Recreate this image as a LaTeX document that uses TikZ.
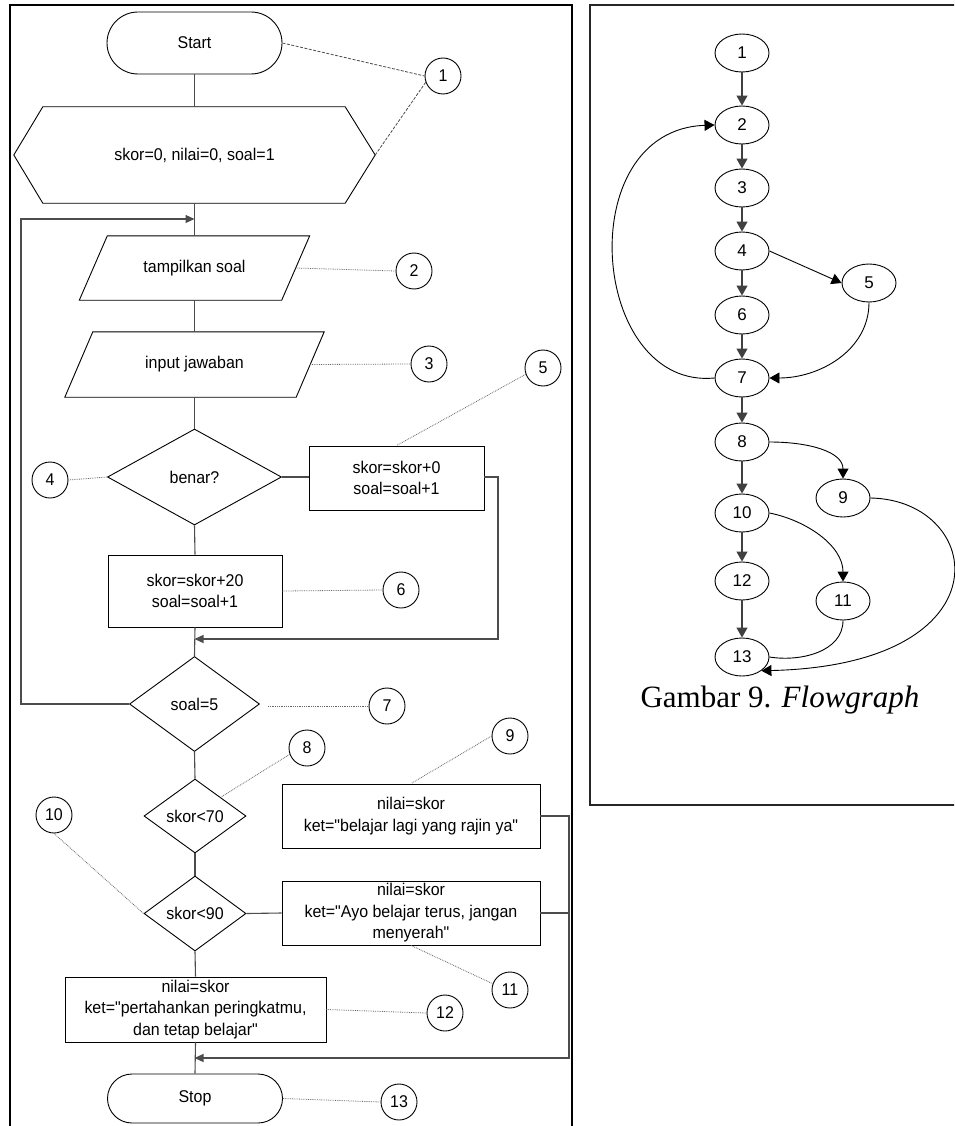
\documentclass[tikz,border=0pt]{standalone}
\usepackage{fontspec}
\setmainfont{Liberation Sans}[Ligatures=TeXOff,FakeStretch=0.94]
\newfontfamily\fgfont{Liberation Sans}
\newfontfamily\capfont{Liberation Serif}
\usetikzlibrary{arrows.meta,shapes.misc,shapes.geometric,calc}
\begin{document}
\begin{tikzpicture}[x=1pt,y=-1pt,
  font=\fontsize{17}{21.5}\selectfont,
  shp/.style={draw=black,line width=0.9pt},
  plain/.style={draw=none,inner sep=0pt,align=center},
  term/.style={draw=black,line width=0.9pt,rounded rectangle,minimum width=175pt,inner sep=0pt},
  boxnode/.style={draw=black,line width=0.9pt,rectangle,inner sep=0pt,align=center},
  dec/.style={draw=black,line width=0.9pt,diamond,inner sep=0pt},
  conn/.style={draw=black!70,line width=1.1pt},
  tip/.style={-{Triangle[length=9pt,width=8pt]}},
  lbl/.style={draw=black,line width=0.9pt,circle,minimum size=36pt,inner sep=0pt},
  dotl/.style={draw=black!60,line width=0.8pt,densely dotted},
  dashl/.style={draw=black!70,line width=0.8pt,dash pattern=on 3pt off 1.5pt},
  fg/.style={draw=black,line width=0.9pt,ellipse,minimum width=54pt,minimum height=38pt,inner sep=0pt,font=\fgfont\fontsize{17}{18}\selectfont},
  fgs/.style={draw=black!75,line width=1.1pt,-{Triangle[length=10pt,width=11pt]}},
  fgc/.style={draw=black,line width=0.9pt,-{Triangle[length=10pt,width=11pt]}},
  fgn/.style={draw=black,line width=0.9pt}
]
\useasboundingbox (0,0) rectangle (954,1126);
\fill[white] (0,0) rectangle (954,1126);
\begin{scope}
\clip (0,0) rectangle (954,1126);
\draw[black,line width=2pt] (10,1140) -- (10,5) -- (572,5) -- (572,1140);
\draw[black!85,line width=1.8pt] (970,805) -- (590,805) -- (590,5) -- (970,5);
\end{scope}

% ---------- flowchart ----------
\node[term,minimum height=62pt] (start) at (194.5,43) {Start};
\node[plain,minimum width=361pt,minimum height=96pt] (init) at (194.5,155) {skor=0, nilai=0, soal=1};
\draw[shp] (init.west) -- ($(init.north west)+(29,0)$) -- ($(init.north east)+(-30,0)$) -- (init.east)
  -- ($(init.south east)+(-30,0)$) -- ($(init.south west)+(29,0)$) -- cycle;

\node[plain,minimum width=202pt,minimum height=64pt] (tamp) at (194.5,268) {tampilkan soal};
\draw[shp] ($(tamp.north west)+(14,0)$) -- ($(tamp.north east)+(14,0)$) -- ($(tamp.south east)+(-14,0)$) -- ($(tamp.south west)+(-14,0)$) -- cycle;

\node[plain,minimum width=231pt,minimum height=65pt] (inp) at (194.5,364.5) {input jawaban};
\draw[shp] ($(inp.north west)+(14,0)$) -- ($(inp.north east)+(14,0)$) -- ($(inp.south east)+(-14,0)$) -- ($(inp.south west)+(-14,0)$) -- cycle;

\node[dec,minimum width=174pt,minimum height=96pt] (benar) at (194.5,477) {benar?};
\node[boxnode,minimum width=175pt,minimum height=64pt] (b5) at (396.5,478) {skor=skor+0\\soal=soal+1};
\node[boxnode,minimum width=174pt,minimum height=72pt] (b6) at (195,591) {skor=skor+20\\soal=soal+1};
\node[dec,minimum width=130pt,minimum height=95pt] (s5) at (194.5,704) {soal=5};
\node[dec,minimum width=102pt,minimum height=74pt] (s70) at (195,816) {skor<70};
\node[dec,minimum width=102pt,minimum height=75pt] (s90) at (195,913.5) {skor<90};
\node[boxnode,minimum width=258pt,minimum height=64pt] (b9) at (411,816) {nilai=skor\\ket="belajar lagi yang rajin ya"};
\node[boxnode,minimum width=258pt,minimum height=64pt] (b11) at (411,913) {nilai=skor\\ket="Ayo belajar terus, jangan\\menyerah"};
\node[boxnode,minimum width=261pt,minimum height=65pt] (b12) at (195.5,1009.5) {nilai=skor\\ket="pertahankan peringkatmu,\\dan tetap belajar"};
\node[term,minimum height=49pt] (stop) at (195,1098.5) {Stop};

\coordinate (j1) at (194.5,219);
\coordinate (lp) at (21,219);
\coordinate (j2) at (194.5,639);
\coordinate (r1) at (498,639);
\coordinate (j3) at (194.5,1058);
\coordinate (r2) at (569,1058);

\draw[conn] (start.south) -- (init.north);
\draw[conn] (init.south) -- (tamp.north);
\draw[conn,tip] (s5.west) -| (lp) -- (j1);
\draw[conn] (tamp.south) -- (inp.north);
\draw[conn] (inp.south) -- (benar.north);
\draw[conn] (benar.east) -- (b5.west |- benar.east);
\draw[conn] (benar.south) -- (b6.north);
\draw[conn,tip] (b5.east |- benar.east) -| (r1) -- (j2);
\draw[conn] (b6.south) -- (s5.north);
\draw[conn] (s5.south) -- (s70.north);
\draw[conn] (s70.south) -- (s90.north);
\draw[conn] (s90.east) -- (b11.west);
\draw[conn] (s90.south) -- (b12.north);
\draw[conn] (b12.south) -- (stop.north);
\draw[conn,tip] (b9.east) -| (r2) -- (j3);
\draw[conn] (b11.east) -- (b11.east -| r2);

% labels
\node[lbl] (c1) at (443,76) {1};
\node[lbl] (c2) at (414,271) {2};
\node[lbl] (c3) at (429,364) {3};
\node[lbl] (c4) at (50,480) {4};
\node[lbl] (c5) at (543,368) {5};
\node[lbl] (c6) at (401,590) {6};
\node[lbl] (c7) at (387,706) {7};
\node[lbl] (c8) at (307,748) {8};
\node[lbl] (c9) at (510,736) {9};
\node[lbl] (c10) at (54,815) {10};
\node[lbl] (c11) at (510,990) {11};
\node[lbl] (c12) at (445,1013) {12};
\node[lbl] (c13) at (399,1102) {13};

\draw[dashl] (start.east) -- (c1.west);
\draw[dashl] (init.east) -- (c1.200);
\draw[dotl] (tamp.east) -- (c2.west);
\draw[dotl] (inp.east) -- (c3.west);
\draw[dotl] (c4.east) -- (benar.west);
\draw[dotl] (c5.200) -- (b5.north);
\draw[dotl] (b6.east) -- (c6.west);
\draw[dotl] ([xshift=8pt,yshift=-2pt]s5.east) -- (c7.west);
\draw[dotl] (c8.200) -- (s70.north east);
\draw[dotl] (c9.west) -- (b9.north);
\draw[dotl] (c10.south) -- (s90.west);
\draw[dotl] (b11.south) -- (c11.160);
\draw[dotl] (b12.east) -- (c12.west);
\draw[dotl] (stop.east) -- (c13.west);

% ---------- flowgraph ----------
\node[fg] (n1) at (742,53) {1};
\node[fg] (n2) at (742,125) {2};
\node[fg] (n3) at (742,188) {3};
\node[fg] (n4) at (742,251) {4};
\node[fg] (n5) at (869,283) {5};
\node[fg] (n6) at (742,315) {6};
\node[fg] (n7) at (742,378) {7};
\node[fg] (n8) at (742,442) {8};
\node[fg] (n9) at (843,498) {9};
\node[fg] (n10) at (742,513) {10};
\node[fg] (n11) at (843,601) {11};
\node[fg] (n12) at (742,581) {12};
\node[fg] (n13) at (742,657) {13};

\draw[fgs] (n1) -- (n2);
\draw[fgs] (n2) -- (n3);
\draw[fgs] (n3) -- (n4);
\draw[fgs] (n4) -- (n6);
\draw[fgs] (n6) -- (n7);
\draw[fgs] (n7) -- (n8);
\draw[fgs] (n8) -- (n10);
\draw[fgs] (n10) -- (n12);
\draw[fgs] (n12) -- (n13);
\draw[fgc] (n4.east) -- (n5.west);
\draw[fgc] (n5.south) .. controls (869,350) and (820,378) .. (n7.east);
\draw[fgc] (n7.west) .. controls (590,390) and (570,130) .. (n2.west);
\draw[fgc] (n8.east) .. controls (810,442) and (843,452) .. (n9.north);
\draw[fgc] (n10.east) .. controls (805,520) and (843,545) .. (n11.north);
\draw[fgn] (n11.south) .. controls (843,652) and (800,662) .. (n13.east);
\draw[fgc] (n9.east) .. controls (985,500) and (1010,665) .. (n13.south east);

\node[font=\capfont\fontsize{31}{36}\selectfont,inner sep=0pt] (cap) at (780,700) {Gambar 9. \textit{Flowgraph}};
\end{tikzpicture}
\end{document}
